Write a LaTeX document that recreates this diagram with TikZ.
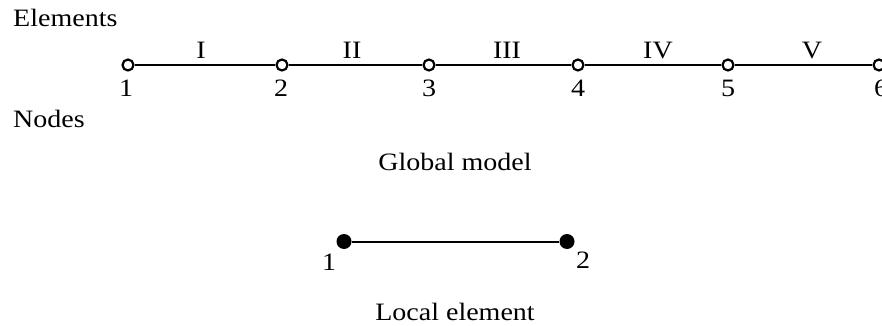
\documentclass[tikz,border=0pt]{standalone}
\usepackage{fontspec}
\setmainfont{Liberation Serif}
\begin{document}
\begin{tikzpicture}[x=1pt,y=-1pt,
  txt/.style={inner sep=0pt, font=\fontsize{25}{30}\selectfont, xscale=1.12, transform shape},
  opennode/.style={circle, draw, line width=2.2pt, fill=white, minimum size=11pt, inner sep=0pt},
  fullnode/.style={circle, fill=black, minimum size=15pt, inner sep=0pt},
  conn/.style={line width=2pt}]
\useasboundingbox (0,0) rectangle (882,326);
% headings
\node[txt, anchor=base west] (elem) at (13,27) {Elements};
\node[txt, anchor=base west] (nodes) at (13,128) {Nodes};
\node[txt, anchor=base] (glob) at (455,170) {Global model};
\node[txt, anchor=base] (loc) at (455,320) {Local element};
% global nodes
\node[opennode] (g1) at (128,65) {};
\node[opennode] (g2) at (282,65) {};
\node[opennode] (g3) at (429,65) {};
\node[opennode] (g4) at (578,65) {};
\node[opennode] (g5) at (728,65) {};
\node[opennode] (g6) at (879,65) {};
\draw[conn] (g1) -- (g2);
\draw[conn] (g2) -- (g3);
\draw[conn] (g3) -- (g4);
\draw[conn] (g4) -- (g5);
\draw[conn] (g5) -- (g6);
% node numbers
\node[txt, anchor=base] (l1) at (126,97) {1};
\node[txt, anchor=base] (l2) at (281,97) {2};
\node[txt, anchor=base] (l3) at (429,97) {3};
\node[txt, anchor=base] (l4) at (578,97) {4};
\node[txt, anchor=base] (l5) at (728,97) {5};
\node[txt, anchor=base] (l6) at (881,97) {6};
% element labels
\node[txt, anchor=base] (e1) at (201,59) {I};
\node[txt, anchor=base] (e2) at (352,59) {II};
\node[txt, anchor=base] (e3) at (507,59) {III};
\node[txt, anchor=base] (e4) at (658,59) {IV};
\node[txt, anchor=base] (e5) at (812,59) {V};
% local element
\node[fullnode] (n1) at (344,241.5) {};
\node[fullnode] (n2) at (567,241.5) {};
\draw[conn] (n1) -- (n2);
\node[txt, anchor=base] (k1) at (329,270) {1};
\node[txt, anchor=base] (k2) at (583,268) {2};
\end{tikzpicture}
\end{document}
